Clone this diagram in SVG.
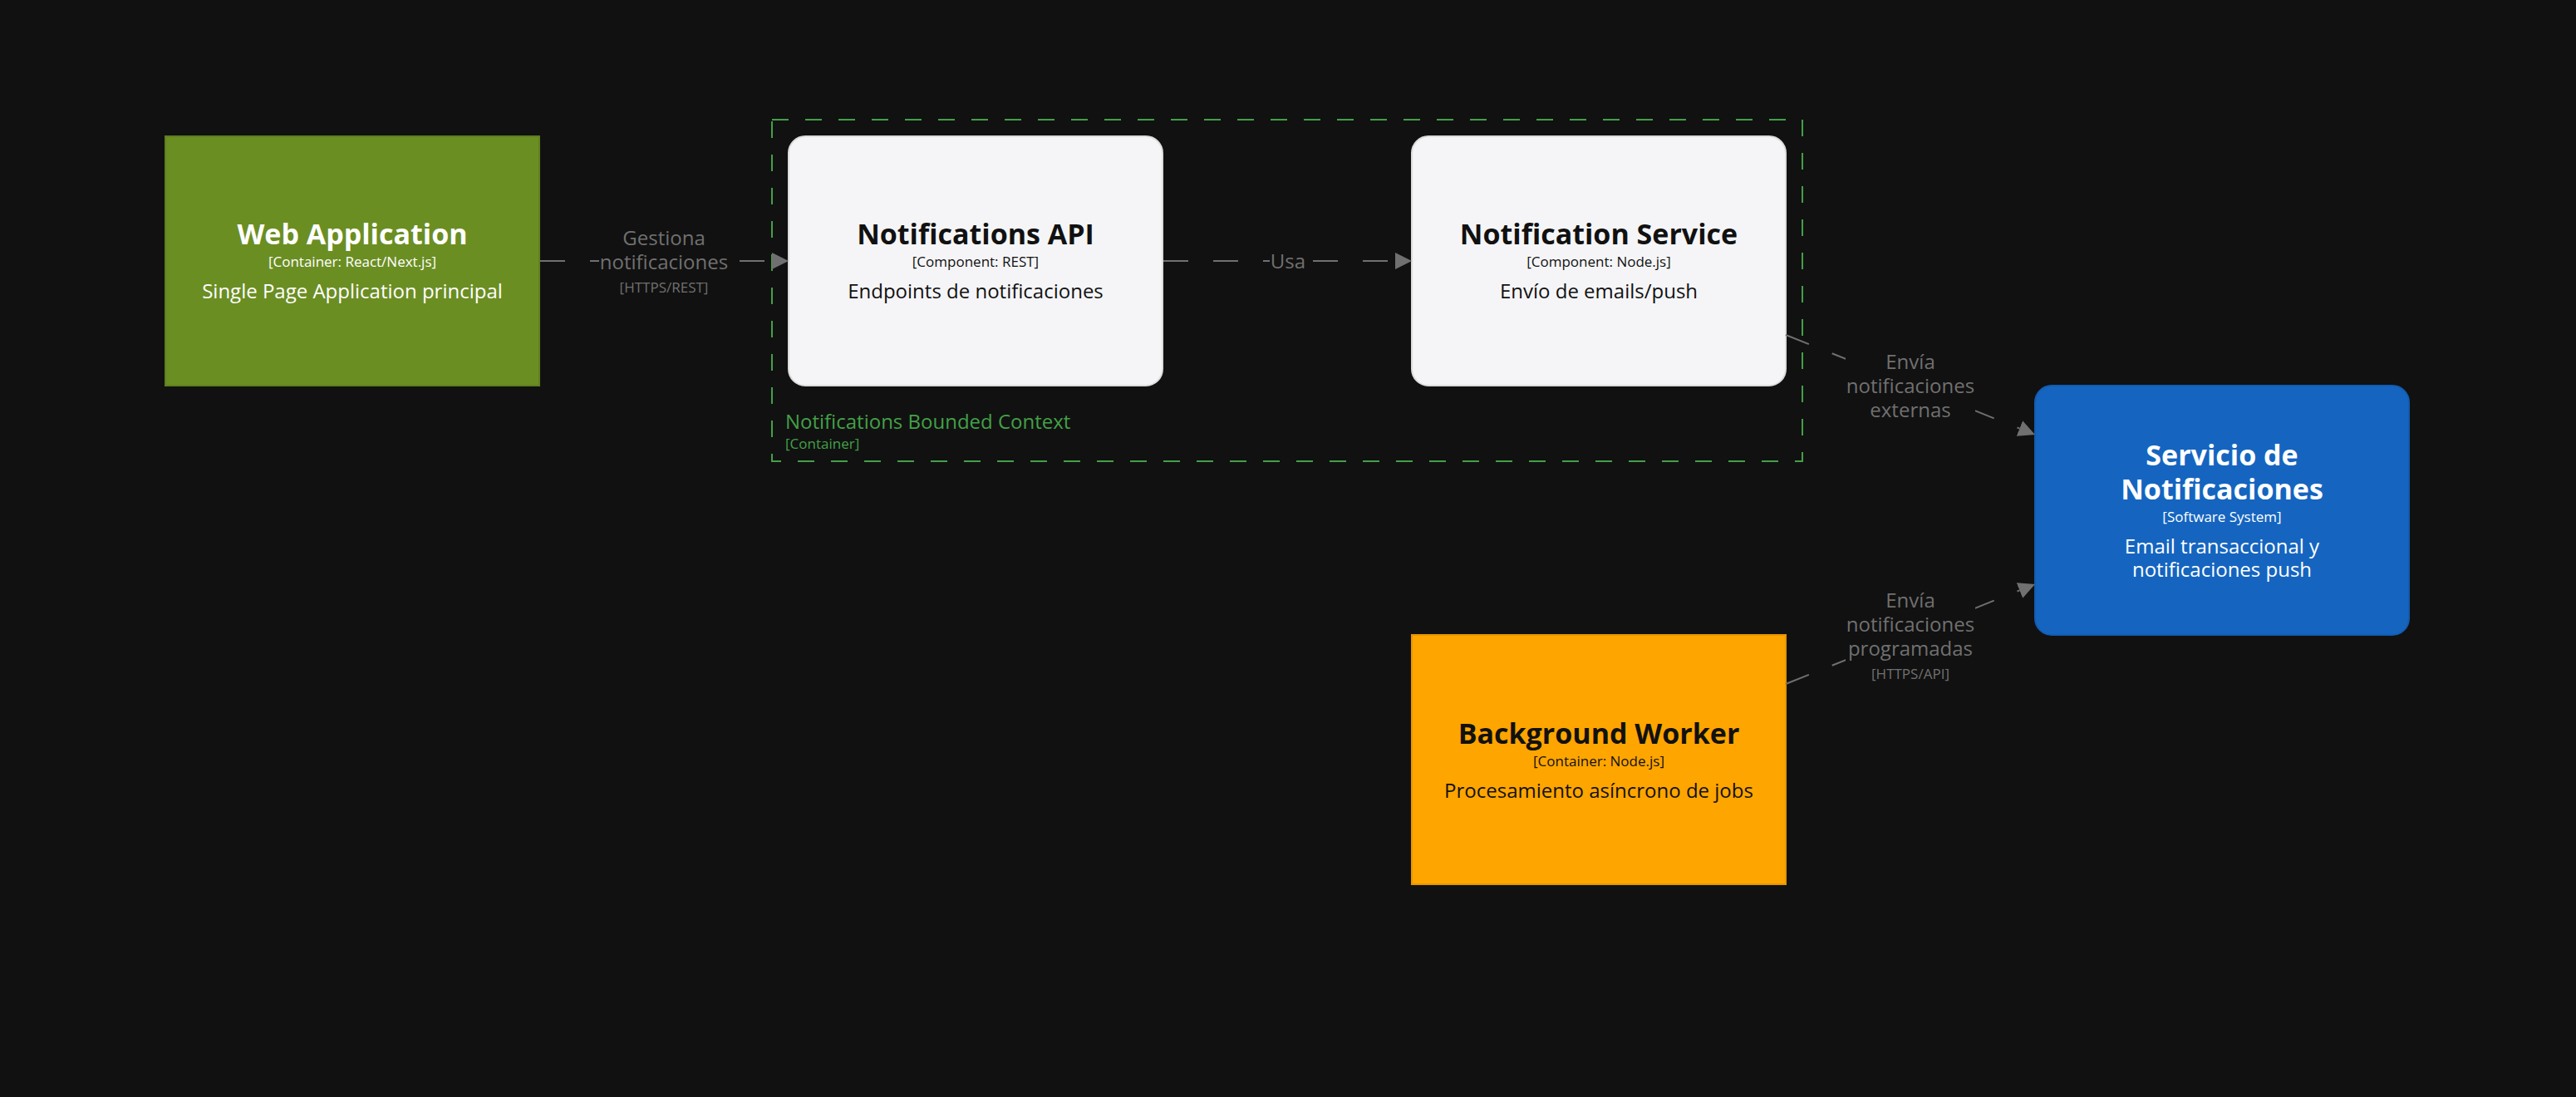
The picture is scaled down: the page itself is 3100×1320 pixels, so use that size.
<svg xmlns="http://www.w3.org/2000/svg" width="3100" height="1320" viewBox="0 0 3100 1320">
<style>
text { font-family: "Open Sans", "Noto Sans", "DejaVu Sans", sans-serif; }
.t { font-size: 34px; font-weight: 700; text-anchor: middle; }
.m { font-size: 17px; text-anchor: middle; }
.d { font-size: 24px; text-anchor: middle; }
.light text { fill: #ffffff; }
.dark text { fill: #111111; }
.edge { fill: none; stroke: #707070; stroke-width: 2; stroke-dasharray: 30 30; }
.lbg { fill: #111111; }
.el { font-size: 24px; fill: #707070; text-anchor: middle; }
.em { font-size: 17px; fill: #707070; text-anchor: middle; }
</style>
<defs>
<marker id="arrow" viewBox="0 0 20 20" refX="0" refY="10" markerWidth="20" markerHeight="20" markerUnits="userSpaceOnUse" orient="auto">
<path d="M0,0 L20,10 L0,20 Z" fill="#707070"/>
</marker>
</defs>
<rect x="0" y="0" width="3100" height="1320" fill="#111111"/>

<g id="boundary-notifications">
<rect x="929" y="144" width="1240" height="411" fill="none" stroke="#43a047" stroke-width="2" stroke-dasharray="20 20"/>
<text x="945" y="516" style="font-size:24px;fill:#43a047">Notifications Bounded Context</text>
<text x="945" y="540" style="font-size:17px;fill:#43a047">[Container]</text>
</g>

<g id="node-webapp" class="light">
<rect x="199" y="164" width="450" height="300" fill="#6b8e23" stroke="#5f7f1f" stroke-width="2"/>
<text class="t" x="424" y="294">Web Application</text>
<text class="m" x="424" y="321">[Container: React/Next.js]</text>
<text class="d" x="424" y="359">Single Page Application principal</text>
</g>

<g id="node-notifications-api" class="dark">
<rect x="949" y="164" width="450" height="300" rx="20" ry="20" fill="#f5f5f7" stroke="#dcdcdc" stroke-width="2"/>
<text class="t" x="1174" y="294">Notifications API</text>
<text class="m" x="1174" y="321">[Component: REST]</text>
<text class="d" x="1174" y="359">Endpoints de notificaciones</text>
</g>

<g id="node-notification-service" class="dark">
<rect x="1699" y="164" width="450" height="300" rx="20" ry="20" fill="#f5f5f7" stroke="#dcdcdc" stroke-width="2"/>
<text class="t" x="1924" y="294">Notification Service</text>
<text class="m" x="1924" y="321">[Component: Node.js]</text>
<text class="d" x="1924" y="359">Envío de emails/push</text>
</g>

<g id="node-servicio-notificaciones" class="light">
<rect x="2449" y="464" width="450" height="300" rx="20" ry="20" fill="#1565c0" stroke="#135cb0" stroke-width="2"/>
<text class="t" x="2674" y="560">Servicio de</text>
<text class="t" x="2674" y="601">Notificaciones</text>
<text class="m" x="2674" y="628">[Software System]</text>
<text class="d" x="2674" y="666">Email transaccional y</text>
<text class="d" x="2674" y="694">notificaciones push</text>
</g>

<g id="node-background-worker" class="dark">
<rect x="1699" y="764" width="450" height="300" fill="#ffa500" stroke="#e69500" stroke-width="2"/>
<text class="t" x="1924" y="895">Background Worker</text>
<text class="m" x="1924" y="922">[Container: Node.js]</text>
<text class="d" x="1924" y="960">Procesamiento asíncrono de jobs</text>
</g>

<g id="connectors">
<g id="edge-webapp-api">
<path class="edge" d="M650,314 L929,314" marker-end="url(#arrow)"/>
<rect class="lbg" x="721" y="276" width="156" height="82"/>
<text class="el" x="799" y="295">Gestiona</text>
<text class="el" x="799" y="324">notificaciones</text>
<text class="em" x="799" y="352">[HTTPS/REST]</text>
</g>
<g id="edge-api-service">
<path class="edge" d="M1400,314 L1679,314" marker-end="url(#arrow)"/>
<rect class="lbg" x="1528" y="302" width="43" height="26"/>
<text class="el" x="1550" y="323">Usa</text>
</g>
<g id="edge-service-servicio">
<path class="edge" d="M2149,403 L2430.4,515.6" marker-end="url(#arrow)"/>
<rect class="lbg" x="2221" y="425" width="156" height="84"/>
<text class="el" x="2299" y="444">Envía</text>
<text class="el" x="2299" y="473">notificaciones</text>
<text class="el" x="2299" y="502">externas</text>
</g>
<g id="edge-worker-servicio">
<path class="edge" d="M2149,823 L2430.4,710.4" marker-end="url(#arrow)"/>
<rect class="lbg" x="2221" y="712" width="156" height="110"/>
<text class="el" x="2299" y="731">Envía</text>
<text class="el" x="2299" y="760">notificaciones</text>
<text class="el" x="2299" y="789">programadas</text>
<text class="em" x="2299" y="817">[HTTPS/API]</text>
</g>
</g>
</svg>
